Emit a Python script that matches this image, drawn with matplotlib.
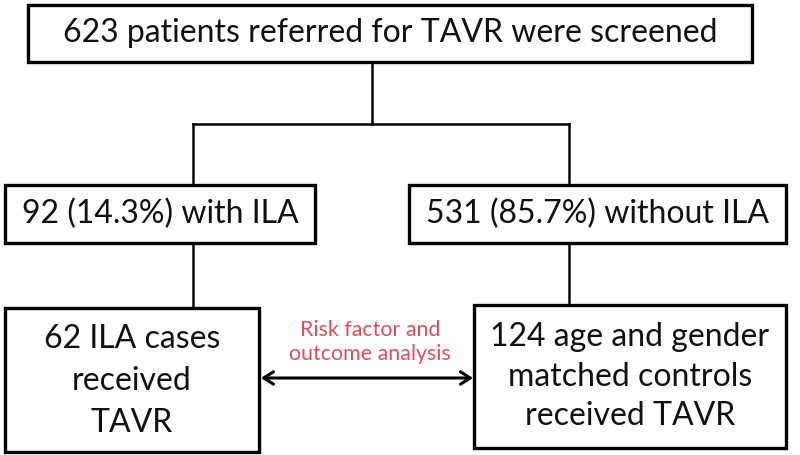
import matplotlib
matplotlib.use("Agg")
import matplotlib.pyplot as plt
from matplotlib.patches import Rectangle

# ---- content ----
top_text = "623 patients referred for TAVR were screened"
mid_texts = ["92 (14.3%) with ILA", "531 (85.7%) without ILA"]
bottom_texts = ["62 ILA cases\nreceived\nTAVR", "124 age and gender\nmatched controls\nreceived TAVR"]
link_text = "Risk factor and\noutcome analysis"

# ---- layout (pixel coordinates, origin top-left) ----
W, H = 800, 455
boxes = {
    "top": (28, 5, 752, 62),
    "midL": (5, 185, 315, 243),
    "midR": (409, 185, 786, 243),
    "botL": (5, 308, 259, 452),
    "botR": (474, 305, 786, 448),
}
branch_y = 124
xL, xR, xC = 193, 569, 372

FONT = ["Lato", "DejaVu Sans"]
fig = plt.figure(figsize=(W / 100, H / 100), dpi=100)
ax = fig.add_axes([0, 0, 1, 1])
ax.set_xlim(0, W)
ax.set_ylim(H, 0)
ax.axis("off")

box_lw = 2.4
line_lw = 1.8
for (x0, y0, x1, y1) in boxes.values():
    ax.add_patch(Rectangle((x0, y0), x1 - x0, y1 - y0, fill=False,
                           edgecolor="black", lw=box_lw, joinstyle="miter"))

def center(b):
    x0, y0, x1, y1 = boxes[b]
    return (x0 + x1) / 2, (y0 + y1) / 2

fs = 22.5
cx, cy = center("top")
t = ax.text(cx, cy - 1, top_text, ha="center", va="center",
            fontsize=fs, family=FONT, color="#111111")
# fit font size so that top text spans ~655 px
fig.canvas.draw()
r = fig.canvas.get_renderer()
w = t.get_window_extent(r).width
fs = fs * 655 / w
t.set_fontsize(fs)

cxL, cyL = center("midL")
cxR, cyR = center("midR")
ax.text(cxL, cyL, mid_texts[0], ha="center", va="center", fontsize=fs,
        family=FONT, color="#111111")
ax.text(cxR, cyR, mid_texts[1], ha="center", va="center", fontsize=fs,
        family=FONT, color="#111111")
bx, by = center("botL")
ax.text(bx, by + 1, bottom_texts[0], ha="center", va="center", fontsize=fs,
        family=FONT, color="#111111", linespacing=1.5)
bx2, by2 = center("botR")
ax.text(bx2, by2, bottom_texts[1], ha="center", va="center", fontsize=fs,
        family=FONT, color="#111111", linespacing=1.4)

# connectors
ax.plot([xC, xC], [boxes["top"][3], branch_y], color="black", lw=line_lw)
ax.plot([xL, xR], [branch_y, branch_y], color="black", lw=line_lw)
ax.plot([xL, xL], [branch_y, boxes["midL"][1]], color="black", lw=line_lw)
ax.plot([xR, xR], [branch_y, boxes["midR"][1]], color="black", lw=line_lw)
ax.plot([xL, xL], [boxes["midL"][3], boxes["botL"][1]], color="black", lw=line_lw)
ax.plot([xR, xR], [boxes["midR"][3], boxes["botR"][1]], color="black", lw=line_lw)

# double arrow
arrow_y = 378
ax.annotate("", xy=(boxes["botL"][2] + 2, arrow_y), xytext=(boxes["botR"][0] - 1, arrow_y),
            arrowprops=dict(arrowstyle="<->,head_length=0.7,head_width=0.45",
                            color="black", lw=2.2, shrinkA=0, shrinkB=0))
ax.text(370, 342, link_text, ha="center", va="center", fontsize=fs * 0.67,
        family=FONT, color="#d9505c", linespacing=1.2)

fig.savefig("out.png", dpi=100)
